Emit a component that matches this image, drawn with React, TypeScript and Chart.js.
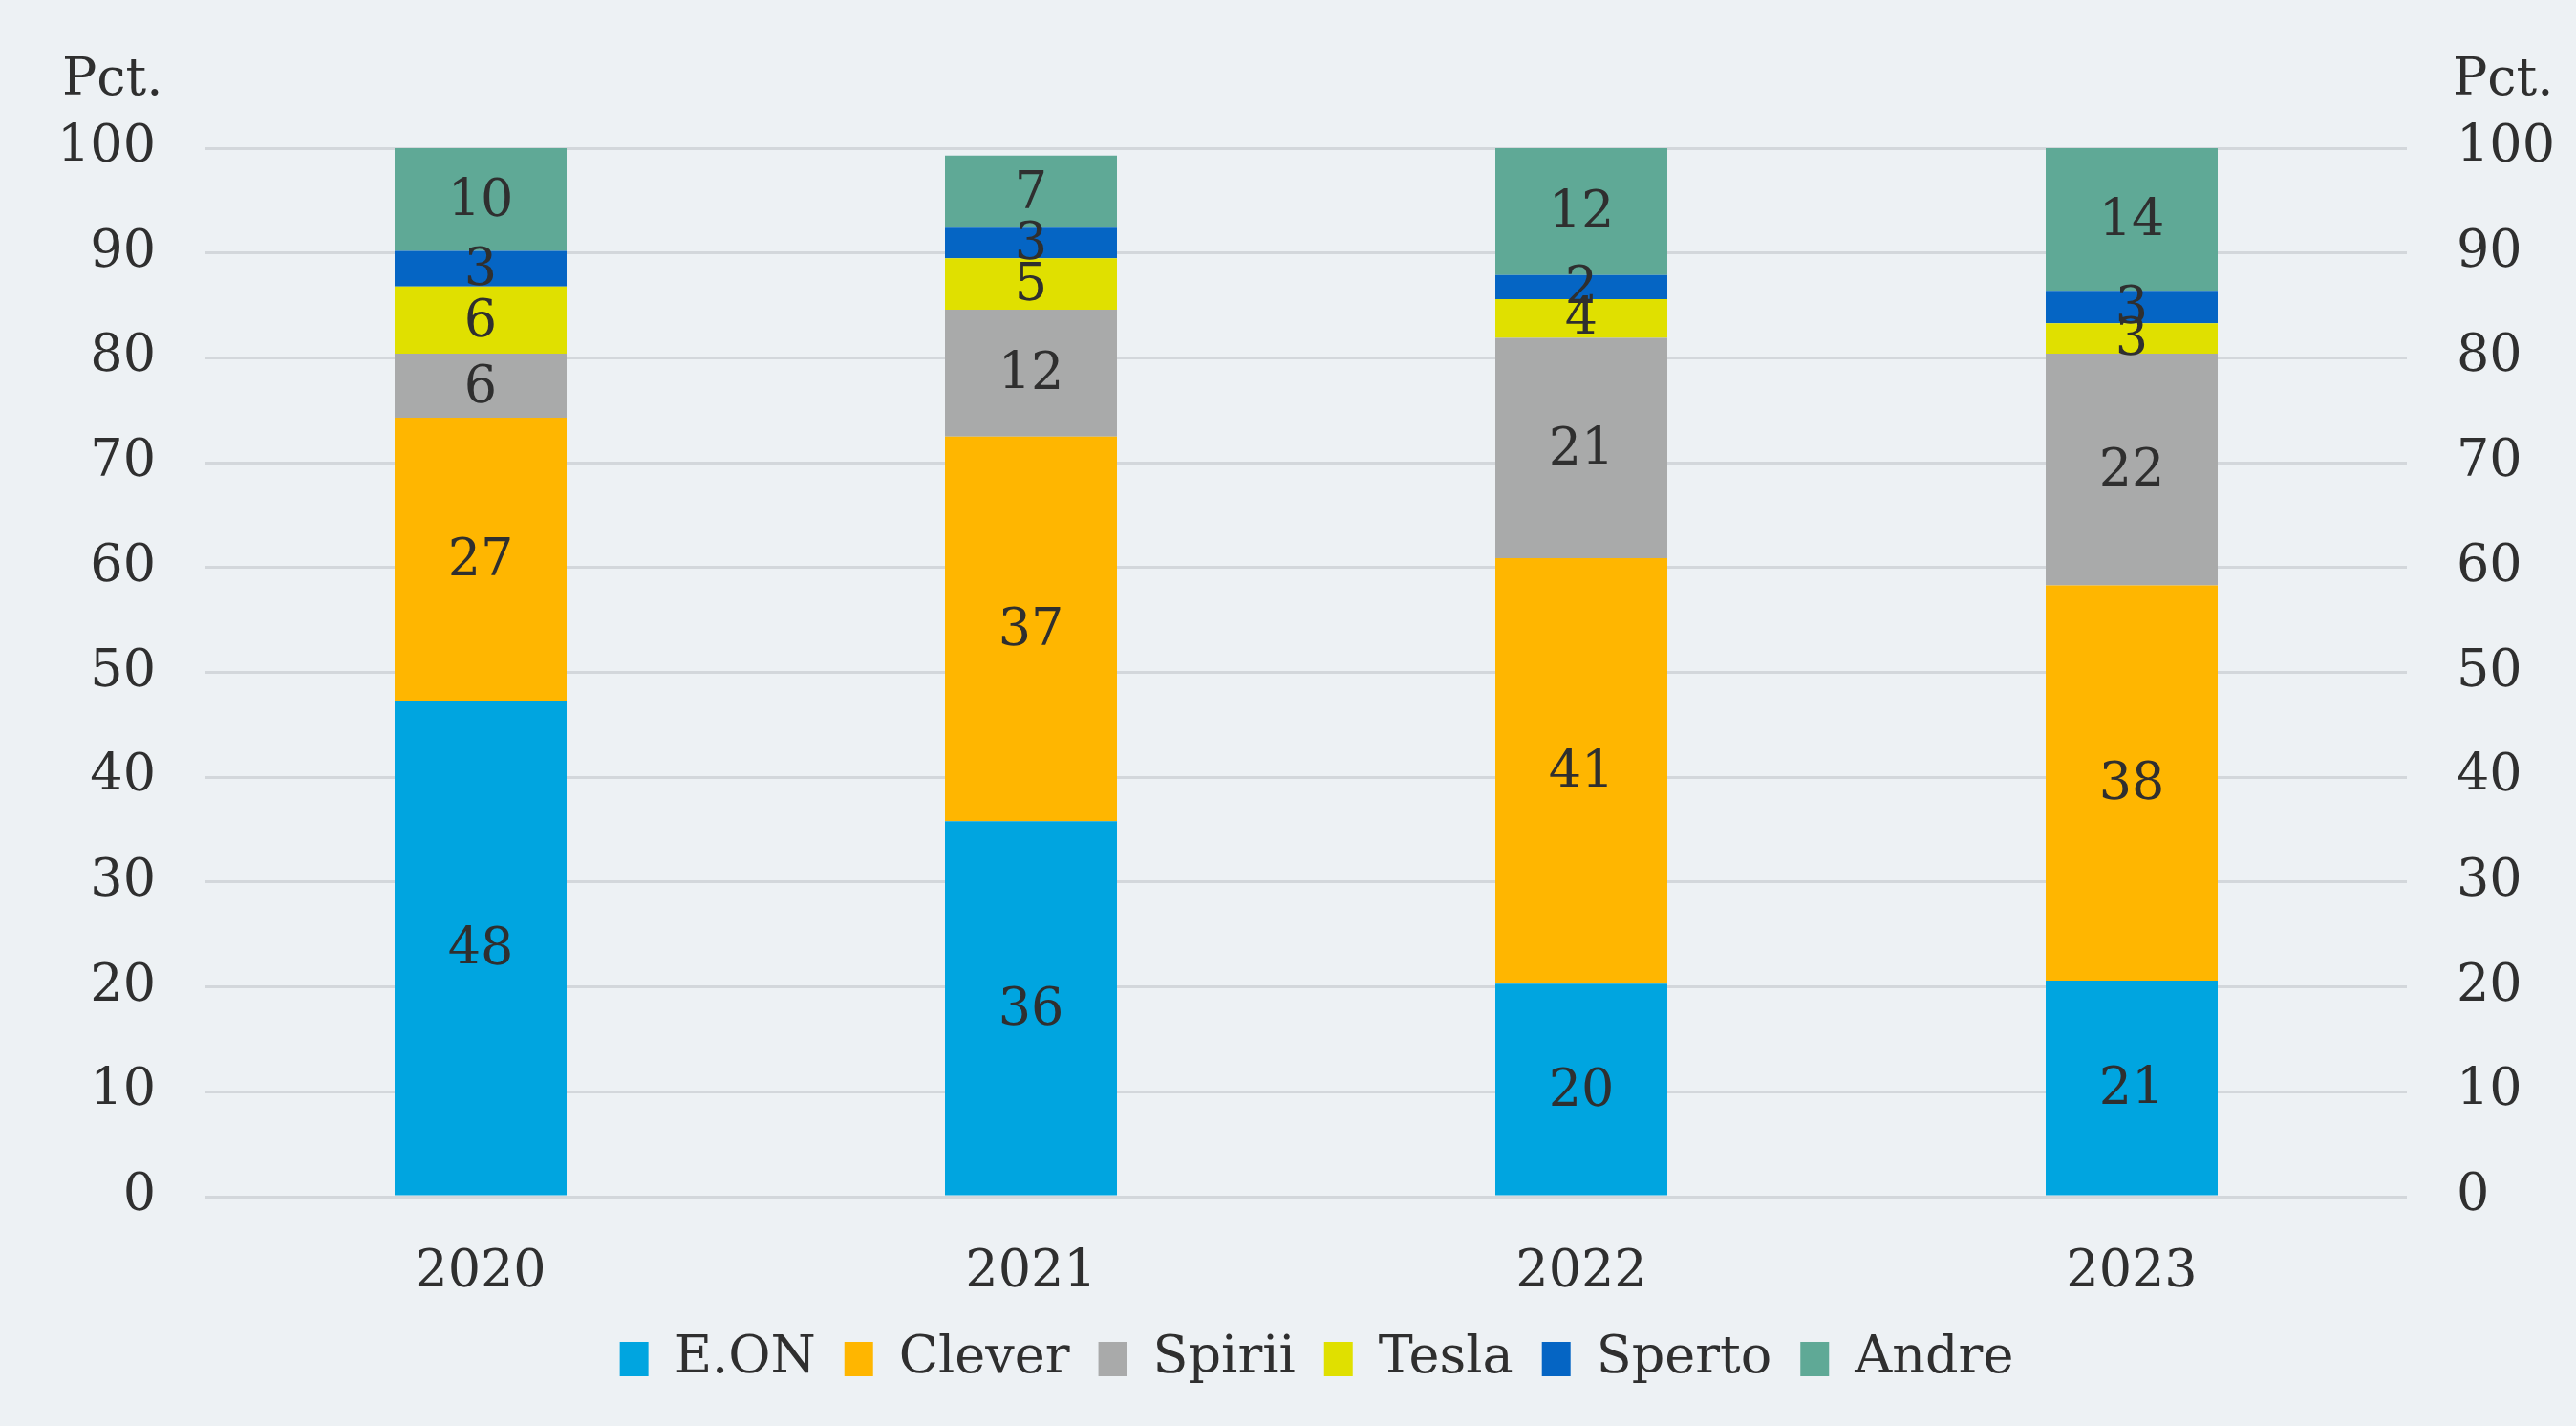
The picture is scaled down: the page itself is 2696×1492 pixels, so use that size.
import React, { useEffect, useRef } from "react";
import { Chart, registerables } from "chart.js";

Chart.register(...registerables);

const years = ["2020", "2021", "2022", "2023"];
const seriesNames = ["E.ON", "Clever", "Spirii", "Tesla", "Sperto", "Andre"];
const eon = [47.3, 35.8, 20.3, 20.6];
const clever = [27.0, 36.7, 40.6, 37.7];
const spirii = [6.1, 12.1, 21.0, 22.1];
const tesla = [6.4, 4.9, 3.7, 2.9];
const sperto = [3.4, 2.9, 2.3, 3.1];
const andre = [9.8, 6.9, 12.1, 13.6];
const eonLabels = [48, 36, 20, 21];
const cleverLabels = [27, 37, 41, 38];
const spiriiLabels = [6, 12, 21, 22];
const teslaLabels = [6, 5, 4, 3];
const spertoLabels = [3, 3, 2, 3];
const andreLabels = [10, 7, 12, 14];
const yTicks = [0, 10, 20, 30, 40, 50, 60, 70, 80, 90, 100];
const axisUnit = "Pct.";

const colors = ["#00a5e0", "#ffb600", "#a9aaaa", "#e0e000", "#0565c4", "#5fa996"];
const BG = "#edf1f4";
const TEXT = "#2f2f2f";
const FONT = "'DejaVu Serif', serif";
const FS = 54;

export default function App() {
  const ref = useRef<HTMLCanvasElement | null>(null);
  useEffect(() => {
    document.body.style.margin = "0";
    document.body.style.background = BG;
    const values = [eon, clever, spirii, tesla, sperto, andre];
    const labels = [eonLabels, cleverLabels, spiriiLabels, teslaLabels, spertoLabels, andreLabels];
    const bgPlugin = {
      id: "bg",
      beforeDraw(chart: any) {
        const c = chart.ctx;
        c.save();
        c.fillStyle = BG;
        c.fillRect(0, 0, chart.width, chart.height);
        c.restore();
      },
    };
    const legendShift = {
      id: "legendShift",
      afterLayout(chart: any) {
        const l = chart.legend;
        if (l) {
          l.left += 30;
          l.right += 30;
        }
      },
    };
    const labelPlugin = {
      id: "segLabels",
      afterDatasetsDraw(chart: any) {
        const c = chart.ctx;
        c.save();
        c.fillStyle = TEXT;
        c.font = `${FS}px ${FONT}`;
        c.textAlign = "center";
        c.textBaseline = "middle";
        chart.data.datasets.forEach((ds: any, di: number) => {
          const meta = chart.getDatasetMeta(di);
          meta.data.forEach((el: any, i: number) => {
            const p = el.getProps(["x", "y", "base"], true);
            c.fillText(String(labels[di][i]), p.x, (p.y + p.base) / 2 + 3);
          });
        });
        const area = chart.chartArea;
        c.textBaseline = "middle";
        c.textAlign = "left";
        c.fillText(axisUnit, area.left - 150, 85);
        c.fillText(axisUnit, area.right + 48, 85);
        c.restore();
      },
    };
    const tickFont = { family: FONT, size: FS };
    const chart = new Chart(ref.current as HTMLCanvasElement, {
      type: "bar",
      data: {
        labels: years,
        datasets: seriesNames.map((n, i) => ({
          label: n,
          data: values[i],
          backgroundColor: colors[i],
          borderWidth: 0,
          categoryPercentage: 1,
          barPercentage: 0.3125,
        })),
      },
      options: {
        animation: false,
        responsive: false,
        devicePixelRatio: 1,
        layout: { padding: { top: 155, left: 0, right: 0, bottom: 33 } },
        plugins: {
          tooltip: { enabled: false },
          legend: {
            position: "bottom",
            labels: {
              color: TEXT,
              font: tickFont,
              boxWidth: 30,
              boxHeight: 36,
              padding: 30,
            },
          },
        },
        scales: {
          x: {
            stacked: true,
            grid: { display: false },
            border: { display: false },
            ticks: { color: TEXT, font: tickFont, padding: 40 },
            afterFit(s: any) {
              s.height = 113;
            },
          },
          y: {
            stacked: true,
            min: 0,
            max: 100,
            position: "left",
            afterBuildTicks(s: any) {
              s.ticks = yTicks.map((v) => ({ value: v }));
            },
            grid: { color: "#d3d7db", lineWidth: 3, drawTicks: false },
            border: { display: false },
            ticks: { color: TEXT, font: tickFont, padding: 52 },
            afterFit(s: any) {
              s.width = 215;
            },
          },
          y2: {
            display: true,
            min: 0,
            max: 100,
            position: "right",
            afterBuildTicks(s: any) {
              s.ticks = yTicks.map((v) => ({ value: v }));
            },
            grid: { display: false, drawTicks: false },
            border: { display: false },
            ticks: { color: TEXT, font: tickFont, padding: 52 },
            afterFit(s: any) {
              s.width = 177;
            },
          },
        },
      },
      plugins: [bgPlugin, legendShift, labelPlugin],
    } as any);
    return () => chart.destroy();
  }, []);
  return (
    <div style={{ width: 2696, height: 1492, background: BG }}>
      <canvas ref={ref} width={2696} height={1492} style={{ display: "block" }} />
    </div>
  );
}
